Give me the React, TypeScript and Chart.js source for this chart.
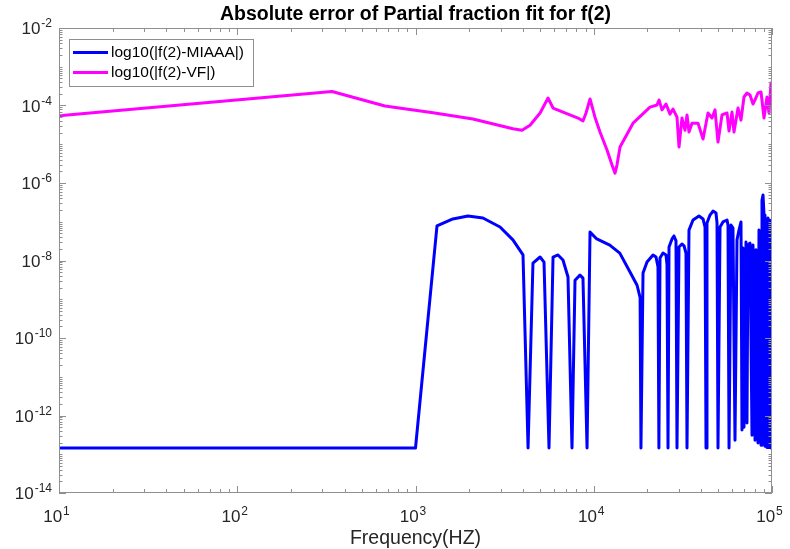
import React, { useEffect, useRef } from 'react';
import { Chart, registerables } from 'chart.js';

Chart.register(...registerables);

const titleText = 'Absolute error of Partial fraction fit for f(2)';
const xAxisTitle = 'Frequency(HZ)';
const seriesLabels = ['log10(|f(2)-MIAAA|)', 'log10(|f(2)-VF|)'];
const seriesColors = ['#0000ff', '#ff00ff'];
const xTickExponents = [1, 2, 3, 4, 5];
const yTickExponents = [-2, -4, -6, -8, -10, -12, -14];

const miaaaFreq = [
  10, 1000, 1320, 1620, 1970, 2390, 2980, 3520, 4010, 4280,
  4560, 5000, 5260, 5610, 5910, 6300, 6720, 7170, 7550, 7850,
  8370, 8700, 9170, 9530, 10400, 12300, 14000, 16000, 17500, 18200,
  18400, 18900, 19900, 21500, 22350, 22930, 23200, 23530, 24460, 25430,
  25760, 26100, 26440, 27480, 28190, 28930, 29310, 30080, 31260, 32090,
  32920, 33360, 34220, 36050, 38940, 41030, 42100, 42640, 43180, 44890,
  46670, 48510, 49150, 49780, 51100, 53100, 55930, 56650, 57400, 58900,
  60400, 62000, 63630, 65300, 67000, 67860, 68750, 69640, 71470, 72390,
  73350, 75270, 77240, 78240, 80300, 81340, 83450, 84530, 86770, 87870,
  89050, 90190, 91350, 92530, 93740, 94980, 96200, 97450, 98720, 100000,
];
const miaaaErr = [
  1.45e-13, 1.45e-13, 7.8e-8, 1.18e-7, 1.41e-7, 1.25e-7, 7.3e-8, 3.4e-8, 1.4e-8, 1.45e-13,
  8.6e-9, 1.23e-8, 9.1e-9, 1.45e-13, 1.23e-8, 1.39e-8, 1.03e-8, 3.75e-9, 1.45e-13, 3.1e-9,
  4.2e-9, 3.5e-9, 1.45e-13, 5.4e-8, 3.6e-8, 2.5e-8, 1.55e-8, 5.0e-9, 2.3e-9, 1.1e-9,
  1.45e-13, 4.75e-9, 9.1e-9, 1.39e-8, 1.23e-8, 6.8e-9, 1.45e-13, 1.16e-8, 1.56e-8, 1.39e-8,
  7.7e-9, 1.45e-13, 2.23e-8, 3.6e-8, 4.3e-8, 3.2e-8, 1.45e-13, 2.23e-8, 2.67e-8, 2.4e-8,
  1.56e-8, 1.45e-13, 6.1e-8, 1.11e-7, 1.41e-7, 1.18e-7, 7.3e-8, 1.45e-13, 9.3e-8, 1.49e-7,
  1.89e-7, 1.68e-7, 9.3e-8, 1.45e-13, 7.3e-8, 9.9e-8, 1.11e-7, 8.2e-8, 1.45e-13, 8.2e-8,
  6.9e-8, 2.3e-13, 3.4e-8, 6.1e-8, 9.9e-8, 4.2e-13, 2.1e-8, 5.0e-13, 3.0e-8, 6.4e-13,
  2.5e-8, 2.8e-8, 3.1e-13, 2.5e-8, 2.3e-13, 1.9e-8, 1.95e-13, 6.1e-8, 1.7e-13, 3.6e-7,
  4.9e-7, 1.5e-7, 1.6e-13, 1.1e-7, 1.5e-13, 1.25e-7, 1.5e-13, 1.1e-7, 1.45e-13, 1.1e-7,
];

const vfFreq = [
  10, 340, 674, 1254, 2100, 3520, 3960, 4390, 5000, 5540,
  5910, 8160, 8700, 9050, 9530, 10160, 10840, 11870, 12660, 13160,
  13500, 14040, 16610, 20680, 22640, 23240, 24150, 25430, 26780, 27840,
  29310, 30080, 31260, 32500, 33360, 34220, 35580, 38440, 41030, 43750,
  46070, 47890, 49780, 52420, 55930, 57400, 59650, 61200, 64470, 67000,
  69640, 72390, 75270, 78240, 80300, 83450, 86770, 90190, 93740, 96200,
  98720, 100000,
];
const vfErr = [
  5.4e-5, 2.3e-4, 9.7e-5, 6.5e-5, 4.5e-5, 2.5e-5, 2.3e-5, 3.1e-5, 6.4e-5, 1.56e-4,
  8.6e-5, 4.75e-5, 4.0e-5, 6.4e-5, 1.47e-4, 5.0e-5, 2.07e-5, 7.1e-6, 2.9e-6, 1.8e-6,
  2.9e-6, 8.5e-6, 3.5e-5, 9.1e-5, 1.03e-4, 1.39e-4, 7.7e-5, 1.09e-4, 6.0e-5, 8.1e-5,
  5.0e-5, 8.5e-6, 4.75e-5, 2.3e-5, 5.7e-5, 2.07e-5, 3.5e-5, 3.5e-5, 1.36e-5, 6.4e-5,
  4.75e-5, 7.7e-5, 1.14e-5, 5.7e-5, 6.4e-5, 2.2e-5, 6.8e-5, 2.07e-5, 8.6e-5, 4.2e-5,
  1.66e-4, 2.1e-4, 1.87e-4, 1.09e-4, 1.39e-4, 2.1e-4, 2.23e-4, 4.75e-5, 1.66e-4, 6.4e-5,
  3.8e-4, 2.0e-4,
];

const FONT = '"Liberation Sans", Arial, Helvetica, sans-serif';
const AXIS_COLOR = '#8f8f8f';
const TEXT_COLOR = '#262626';
const BASE_PX = 17;
const SUP_PX = 12;

function drawPower(ctx: CanvasRenderingContext2D, exp: number, x: number, baseline: number, align: 'center' | 'right') {
  const base = '10';
  const sup = String(exp);
  ctx.font = `${BASE_PX}px ${FONT}`;
  const bw = ctx.measureText(base).width;
  ctx.font = `${SUP_PX}px ${FONT}`;
  const sw = ctx.measureText(sup).width;
  const total = bw + 1 + sw;
  const left = align === 'center' ? x - total / 2 : x - total;
  ctx.textAlign = 'left';
  ctx.textBaseline = 'alphabetic';
  ctx.fillStyle = TEXT_COLOR;
  ctx.font = `${BASE_PX}px ${FONT}`;
  ctx.fillText(base, left, baseline);
  ctx.font = `${SUP_PX}px ${FONT}`;
  ctx.fillText(sup, left + bw + 1, baseline - 7);
}

const matlabAxes = {
  id: 'matlabAxes',
  afterDatasetsDraw(chart: any) {
    const { ctx, chartArea: a, scales } = chart;
    const xs = scales.x;
    const ys = scales.y;
    ctx.save();
    ctx.strokeStyle = AXIS_COLOR;
    ctx.lineWidth = 1;
    ctx.beginPath();
    for (let e = 1; e <= 5; e++) {
      for (let m = 1; m <= 9; m++) {
        const v = m * Math.pow(10, e);
        if (v > 1e5 + 1) break;
        const px = Math.round(xs.getPixelForValue(v)) + 0.5;
        const len = m === 1 ? 7 : 4;
        ctx.moveTo(px, a.bottom);
        ctx.lineTo(px, a.bottom - len);
        ctx.moveTo(px, a.top);
        ctx.lineTo(px, a.top + len);
      }
    }
    for (let e = -14; e <= -2; e++) {
      for (let m = 1; m <= 9; m++) {
        const v = m * Math.pow(10, e);
        if (v > 1.0001e-2) break;
        const py = Math.round(ys.getPixelForValue(v)) + 0.5;
        const len = m === 1 && e % 2 === 0 ? 7 : 3.5;
        ctx.moveTo(a.left, py);
        ctx.lineTo(a.left + len, py);
        ctx.moveTo(a.right, py);
        ctx.lineTo(a.right - len, py);
      }
    }
    ctx.stroke();
    ctx.strokeRect(Math.round(a.left) + 0.5, Math.round(a.top) + 0.5, Math.round(a.right - a.left) - 1, Math.round(a.bottom - a.top) - 1);

    for (const e of xTickExponents) {
      const px = xs.getPixelForValue(Math.pow(10, e));
      drawPower(ctx, e, px - 2.5, 522, 'center');
    }
    for (const e of yTickExponents) {
      const py = ys.getPixelForValue(Math.pow(10, e));
      drawPower(ctx, e, 52, py + 6, 'right');
    }

    ctx.fillStyle = '#000000';
    ctx.textAlign = 'center';
    ctx.textBaseline = 'alphabetic';
    ctx.font = `bold 19.5px ${FONT}`;
    ctx.fillText(titleText, (a.left + a.right) / 2, 20);
    ctx.fillStyle = TEXT_COLOR;
    ctx.font = `19.5px ${FONT}`;
    ctx.fillText(xAxisTitle, (a.left + a.right) / 2, 544);

    const lx = 69.5, ly = 39.5, lw = 184, lh = 47;
    ctx.fillStyle = '#ffffff';
    ctx.fillRect(lx, ly, lw, lh);
    ctx.strokeStyle = AXIS_COLOR;
    ctx.lineWidth = 1;
    ctx.strokeRect(lx, ly, lw, lh);
    const rows = [52.5, 72.5];
    for (let i = 0; i < seriesLabels.length; i++) {
      ctx.strokeStyle = seriesColors[i];
      ctx.lineWidth = 3;
      ctx.beginPath();
      ctx.moveTo(73, rows[i]);
      ctx.lineTo(108, rows[i]);
      ctx.stroke();
      ctx.fillStyle = '#000000';
      ctx.textAlign = 'left';
      ctx.textBaseline = 'middle';
      ctx.font = `15.5px ${FONT}`;
      ctx.fillText(seriesLabels[i], 111, rows[i] + 0.5);
    }
    ctx.restore();
  },
};

export default function App() {
  const canvasRef = useRef<HTMLCanvasElement | null>(null);

  useEffect(() => {
    document.body.style.margin = '0';
    const canvas = canvasRef.current;
    if (!canvas) return;
    const chart = new Chart(canvas, {
      type: 'line',
      data: {
        datasets: [
          {
            label: seriesLabels[0],
            data: miaaaFreq.map((f, i) => ({ x: f, y: miaaaErr[i] })),
            borderColor: seriesColors[0],
            backgroundColor: seriesColors[0],
            borderWidth: 3,
            pointRadius: 0,
            fill: false,
            tension: 0,
            borderJoinStyle: 'round',
          },
          {
            label: seriesLabels[1],
            data: vfFreq.map((f, i) => ({ x: f, y: vfErr[i] })),
            borderColor: seriesColors[1],
            backgroundColor: seriesColors[1],
            borderWidth: 3,
            pointRadius: 0,
            fill: false,
            tension: 0,
            borderJoinStyle: 'round',
          },
        ],
      },
      options: {
        animation: false,
        responsive: false,
        devicePixelRatio: 1,
        layout: { padding: { top: 28, right: 18, left: 0, bottom: 0 } },
        plugins: {
          legend: { display: false },
          title: { display: false },
          tooltip: { enabled: false },
        },
        scales: {
          x: {
            type: 'logarithmic',
            min: 10,
            max: 1e5,
            grid: { display: false },
            border: { display: false },
            ticks: { display: false },
            afterFit: (s: any) => { s.height = 56; },
          },
          y: {
            type: 'logarithmic',
            min: 1e-14,
            max: 1e-2,
            grid: { display: false },
            border: { display: false },
            ticks: { display: false },
            afterFit: (s: any) => { s.width = 59; },
          },
        },
      } as any,
      plugins: [matlabAxes],
    });
    return () => chart.destroy();
  }, []);

  return (
    <div style={{ width: 790, height: 549, background: '#ffffff' }}>
      <canvas ref={canvasRef} width={790} height={549} style={{ display: 'block' }} />
    </div>
  );
}
